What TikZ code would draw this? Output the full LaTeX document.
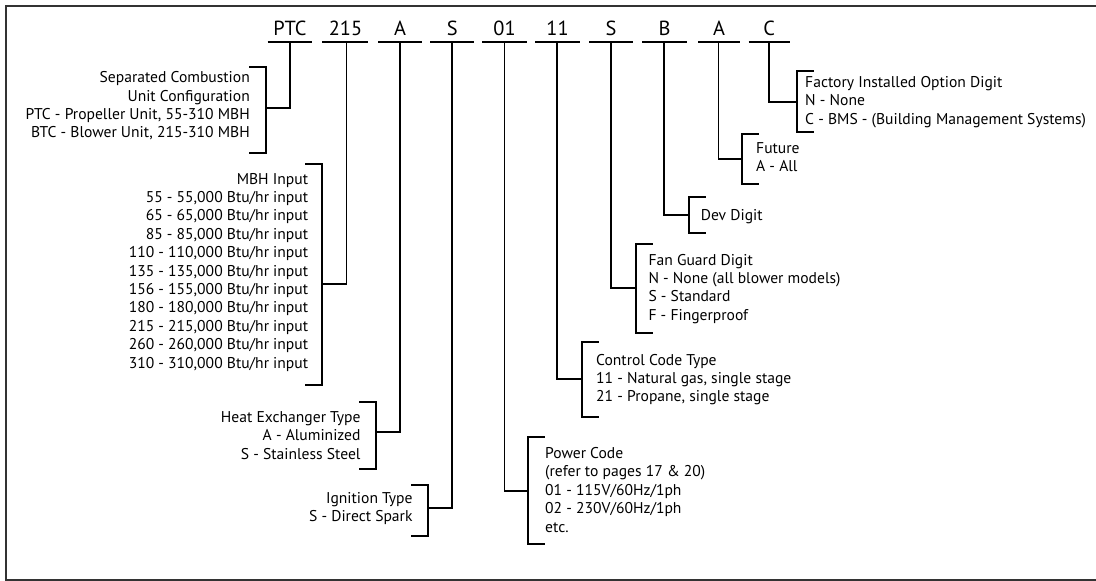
\documentclass[tikz,border=0pt]{standalone}
\usepackage{fontspec}
\setmainfont{PT Sans}
\usepackage{tikz}
\usetikzlibrary{positioning, calc}

\begin{document}
\begin{tikzpicture}[
            x=1pt, y=-1pt,
            code/.style={font=\fontsize{20.4}{24}\selectfont, inner sep=0pt, anchor=base},
            desc/.style={font=\fontsize{15.6}{18.4}\selectfont, inner sep=0pt,
                         execute at begin node=\strut, yshift=12.88pt},
            lefttxt/.style={desc, anchor=north east, align=right},
            righttxt/.style={desc, anchor=north west, align=left},
            rule/.style={line width=1.9pt, line cap=rect},
            frame/.style={draw=black!80, line width=1.3pt}
        ]
        \useasboundingbox (0,0) rectangle (1096,581);

        % --- Frame ---
        \draw[frame] (6,6) rectangle (1120,580);

        % --- Model code ---
        \node[code] (codePTC) at (290,35) {PTC};
        \node[code] (code215) at (345.5,35) {215};
        \node[code] (codeHX) at (400,35) {A};
        \node[code] (codeIgn) at (452.3,35) {S};
        \node[code] (codePow) at (504.5,35) {01};
        \node[code] (codeCtl) at (557.5,35) {11};
        \node[code] (codeFan) at (611,35) {S};
        \node[code] (codeDev) at (664.5,35) {B};
        \node[code] (codeFut) at (719,35) {A};
        \node[code] (codeOpt) at (769.3,35) {C};

        % Underlines under each digit group
        \coordinate (tPTC) at (290,42.3);
        \coordinate (t215) at (346.5,42.3);
        \coordinate (tHX) at (400,42.3);
        \coordinate (tIgn) at (452.3,42.3);
        \coordinate (tPow) at (504.5,42.3);
        \coordinate (tCtl) at (557.4,42.3);
        \coordinate (tFan) at (611.2,42.3);
        \coordinate (tDev) at (664.4,42.3);
        \coordinate (tFut) at (718.5,42.3);
        \coordinate (tOpt) at (769.3,42.3);
        \draw[line width=1.9pt] (267.7,42.3) -- (312.3,42.3);
        \draw[line width=1.9pt] (322,42.3) -- (368.3,42.3);
        \draw[line width=1.9pt] (378,42.3) -- (422.3,42.3);
        \draw[line width=1.9pt] (430,42.3) -- (474.3,42.3);
        \draw[line width=1.9pt] (482,42.3) -- (526.7,42.3);
        \draw[line width=1.9pt] (535.3,42.3) -- (580,42.3);
        \draw[line width=1.9pt] (589,42.3) -- (633.3,42.3);
        \draw[line width=1.9pt] (642.3,42.3) -- (686.7,42.3);
        \draw[line width=1.9pt] (698.3,42.3) -- (740,42.3);
        \draw[line width=1.9pt] (748.7,42.3) -- (790,42.3);

        % --- Left descriptions ---
        \node[lefttxt] (sepTxt) at (250,84.3)
        {Separated Combustion\\Unit Configuration\\PTC - Propeller Unit, 55-310 MBH\\BTC - Blower Unit, 215-310 MBH};
        \coordinate (bPTC) at (265.7,107.7);
        \draw[rule] (250,66.7) -| (265.7,152.7) -- (250,152.7);

        \node[lefttxt] (mbhTxt) at (308.3,185.7)
        {MBH Input\\55 - 55,000 Btu/hr input\\65 - 65,000 Btu/hr input\\85 - 85,000 Btu/hr input\\110 - 110,000 Btu/hr input\\135 - 135,000 Btu/hr input\\156 - 155,000 Btu/hr input\\180 - 180,000 Btu/hr input\\215 - 215,000 Btu/hr input\\260 - 260,000 Btu/hr input\\310 - 310,000 Btu/hr input};
        \coordinate (b215) at (321.7,284.3);
        \draw[rule] (306,164.3) -| (321.7,384.7) -- (306,384.7);

        \node[lefttxt] (hxTxt) at (360.7,424)
        {Heat Exchanger Type\\A - Aluminized\\S - Stainless Steel};
        \coordinate (bHX) at (376,432.3);
        \draw[rule] (360,401.7) -| (376,469) -- (360,469);

        \node[lefttxt] (ignTxt) at (412.7,505)
        {Ignition Type\\S - Direct Spark};
        \coordinate (bIgn) at (427.7,508.3);
        \draw[rule] (411.7,485) -| (427.7,535.7) -- (411.7,535.7);

        % --- Right descriptions ---
        \node[righttxt] (powTxt) at (545,460)
        {Power Code\\(refer to pages 17 \& 20)\\01 - 115V/60Hz/1ph\\02 - 230V/60Hz/1ph\\etc.};
        \coordinate (bPow) at (528.3,491);
        \draw[rule] (544.3,436.7) -| (528.3,544.3) -- (544.3,544.3);

        \node[righttxt] (ctlTxt) at (596,366.7)
        {Control Code Type\\11 - Natural gas, single stage\\21 - Propane, single stage};
        \coordinate (bCtl) at (581.7,379.3);
        \draw[rule] (598.3,341.7) -| (581.7,417.3) -- (598.3,417.3);

        \node[righttxt] (fanTxt) at (648.3,266.7)
        {Fan Guard Digit\\N - None (all blower models)\\S - Standard\\F - Fingerproof};
        \coordinate (bFan) at (636,288.3);
        \draw[rule] (651.7,244.3) -| (636,332.7) -- (651.7,332.7);

        \node[righttxt] (devTxt) at (700.7,220) {Dev Digit};
        \coordinate (bDev) at (689,215);
        \draw[rule] (705,197.3) -| (689,232.7) -- (705,232.7);

        \node[righttxt] (futTxt) at (756,155) {Future\\A - All};
        \coordinate (bFut) at (742.3,159.3);
        \draw[rule] (758.3,134) -| (742.3,184.3) -- (758.3,184.3);

        \node[righttxt] (optTxt) at (805,89)
        {Factory Installed Option Digit\\N - None\\C - BMS - (Building Management Systems)};
        \coordinate (bOpt) at (797,101.7);
        \draw[rule] (812.7,71) -| (797,131.7) -- (812.7,131.7);

        % --- Connectors from digits to brackets ---
        \draw[rule] (tPTC) |- (bPTC);
        \draw[rule] (t215) |- (b215);
        \draw[rule] (tHX) |- (bHX);
        \draw[rule] (tIgn) |- (bIgn);
        \draw[rule] (tPow) |- (bPow);
        \draw[rule] (tCtl) |- (bCtl);
        \draw[rule] (tFan) |- (bFan);
        \draw[rule] (tDev) |- (bDev);
        \draw[rule] (tFut) |- (bFut);
        \draw[rule] (tOpt) |- (bOpt);

        \end{tikzpicture}
\end{document}
